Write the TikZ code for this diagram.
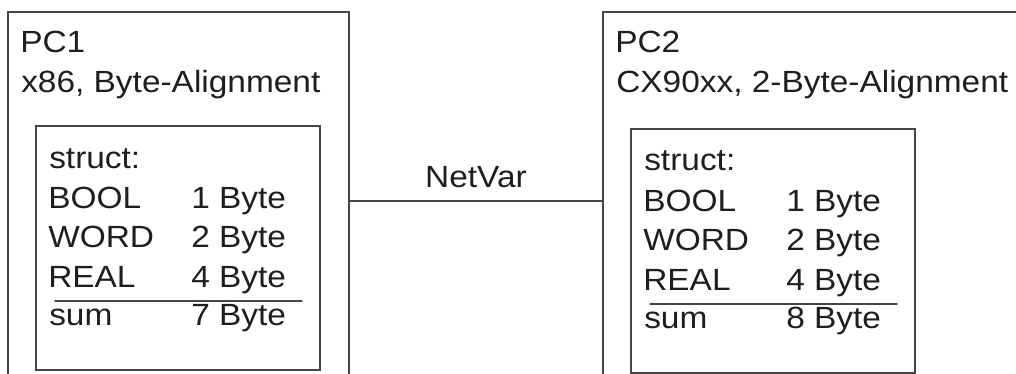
\documentclass[tikz,border=0pt]{standalone}
\usepackage{fontspec}
\setmainfont{Liberation Sans}[FakeStretch=1.09]
\usetikzlibrary{positioning}
\definecolor{edge}{HTML}{454545}
\definecolor{txt}{HTML}{1E1E1E}

\begin{document}
\begin{tikzpicture}[x=0.75pt,y=-0.75pt,line cap=round,every node/.style={font=\fontsize{23}{27}\selectfont,text=txt,inner sep=0pt}]
\tikzset{box/.style={draw=edge,line width=1.1pt},lbl/.style={anchor=base west},rule/.style={draw=edge,line width=1.1pt}}
\useasboundingbox (0,0) rectangle (1016,374);
\clip (0,0) rectangle (1016,374);
% the two controllers, cut off at the bottom
\node[box,minimum width=255.75pt,minimum height=283.5pt] (pc1) at (178.5,201) {};
\node[box,minimum width=327.75pt,minimum height=283.5pt] (pc2) at (821.5,201) {};
\draw[rule] (pc1) -- node[anchor=base,yshift=10.5pt] (netvar) {NetVar} (pc2);
\foreach \p/\dx/\dy/\cpu/\total in {1/0/0/{x86, Byte-Alignment}/7,2/595/3/{CX90xx, 2-Byte-Alignment}/8}{
  \begin{scope}[shift={(\dx,0)}]
  \node[lbl] (pc\p-name) at (20,53) {PC\p};
  \node[lbl] (pc\p-cpu) at (21,93) {\cpu};
  \end{scope}
  \begin{scope}[shift={(\dx,\dy)}]
  \node[box,minimum width=213pt,minimum height=183pt] (st\p) at (178,248) {};
  \node[lbl] (st\p-head) at (49,168) {struct:};
  \foreach \k/\typ/\sz/\yy in {b/BOOL/1/208,w/WORD/2/247,r/REAL/4/287}{
    \node[lbl] (st\p-\k) at (48,\yy) {\typ};
    \node[lbl] (st\p-\k-size) at (191,\yy) {\sz\ Byte};}
  \draw[rule] (55,301) -- (302,301);
  \node[lbl] (st\p-sum) at (49,325) {sum};
  \node[lbl] (st\p-total) at (191,325) {\total\ Byte};
  \end{scope}}
\end{tikzpicture}
\end{document}
